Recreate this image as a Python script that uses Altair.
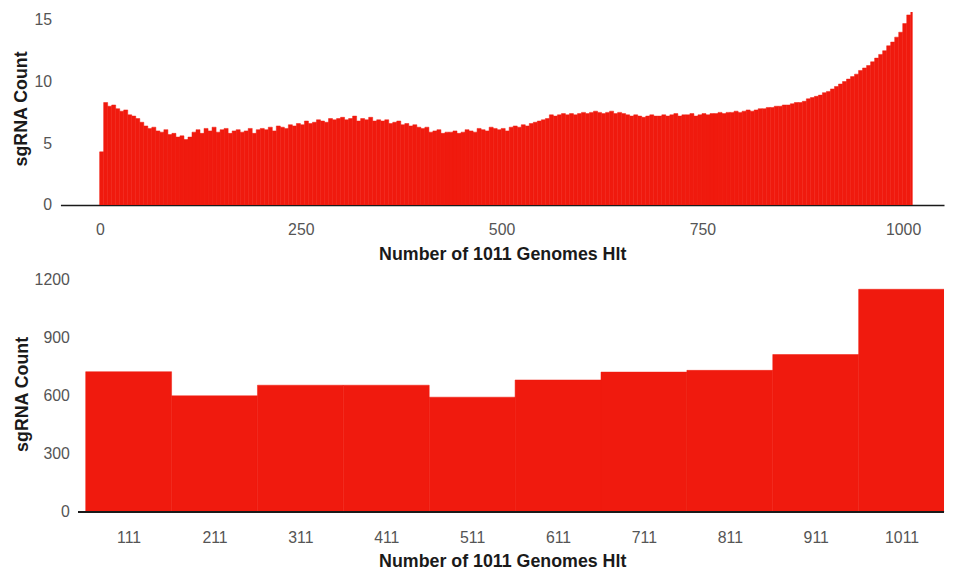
import altair as alt
import pandas as pd

RED = "#f01a0e"
FONT = "Liberation Sans"
X_TITLE = "Number of 1011 Genomes Hlt"
Y_TITLE = "sgRNA Count"

# ---- top panel: sgRNA count per number of genomes hit (5-genome bins) ----
top_counts = [
    4.3, 8.3, 8.0, 8.1, 7.8, 7.6, 7.7, 7.3, 7.2, 7.0,
    6.7, 6.4, 6.2, 6.3, 6.0, 5.9, 6.1, 5.7, 5.8, 5.5,
    5.6, 5.3, 5.5, 5.9, 6.1, 5.8, 6.2, 6.0, 6.3, 5.9,
    6.1, 6.2, 5.8, 6.0, 6.1, 5.9, 6.0, 6.2, 5.8, 6.1,
    6.2, 6.1, 6.3, 6.0, 6.4, 6.3, 6.2, 6.5, 6.4, 6.6,
    6.5, 6.8, 6.6, 6.7, 6.9, 6.8, 6.7, 7.0, 6.9, 7.0,
    7.1, 6.9, 7.0, 7.2, 6.8, 7.0, 6.9, 7.1, 6.8, 6.9,
    6.8, 6.9, 6.6, 6.7, 6.8, 6.5, 6.6, 6.4, 6.5, 6.3,
    6.2, 6.3, 5.9, 6.0, 6.1, 5.8, 5.9, 5.9, 6.0, 5.8,
    5.9, 6.1, 6.0, 5.9, 6.2, 6.1, 6.0, 6.3, 6.2, 6.1,
    6.2, 6.0, 6.3, 6.4, 6.3, 6.5, 6.4, 6.6, 6.7, 6.8,
    6.9, 7.0, 7.3, 7.2, 7.3, 7.4, 7.3, 7.4, 7.3, 7.4,
    7.5, 7.4, 7.5, 7.6, 7.5, 7.4, 7.5, 7.6, 7.4, 7.5,
    7.4, 7.3, 7.2, 7.3, 7.2, 7.1, 7.2, 7.3, 7.2, 7.2,
    7.3, 7.2, 7.3, 7.4, 7.2, 7.3, 7.3, 7.4, 7.2, 7.3,
    7.4, 7.3, 7.4, 7.4, 7.5, 7.4, 7.5, 7.5, 7.6, 7.5,
    7.6, 7.7, 7.6, 7.7, 7.8, 7.8, 7.9, 7.9, 8.0, 8.0,
    8.1, 8.1, 8.2, 8.3, 8.3, 8.4, 8.6, 8.7, 8.8, 8.9,
    9.1, 9.2, 9.4, 9.6, 9.8, 10.0, 10.2, 10.4, 10.6, 10.9,
    11.1, 11.3, 11.6, 11.9, 12.2, 12.5, 12.9, 13.2, 13.6, 14.0,
    14.7, 15.4, 16.0,
]
TOP_BIN = 5
TOP_MIN, TOP_MAX = -0.5, 1011.5
top_ticks = [0, 250, 500, 750, 1000]
top_y_ticks = [0, 5, 10, 15]

# ---- bottom panel: sgRNA count per 100-genome bin ----
bottom_hits = [111, 211, 311, 411, 511, 611, 711, 811, 911, 1011]
bottom_counts = [725, 600, 655, 655, 593, 682, 723, 732, 814, 1152]
BOTTOM_BIN = 100
bottom_y_ticks = [0, 300, 600, 900, 1200]
BOTTOM_X_RANGE = [31.6, 1060.4]      # scale domain of the bottom panel
BOTTOM_AXIS_START = 52.4             # where the bottom axis line begins

top_start = [TOP_MIN + TOP_BIN * i for i in range(len(top_counts))]
top_df = pd.DataFrame({
    "start": top_start,
    "end": [min(s + TOP_BIN, TOP_MAX) for s in top_start],
    "count": top_counts,
})
bot_df = pd.DataFrame({
    "start": [h - BOTTOM_BIN / 2 for h in bottom_hits],
    "end": [h + BOTTOM_BIN / 2 for h in bottom_hits],
    "count": bottom_counts,
})

W = 893

top = alt.Chart(top_df).mark_rect(
    color=RED, stroke=RED, strokeWidth=0.5, clip=True
).encode(
    x=alt.X("start:Q",
            scale=alt.Scale(domain=[-49.3, 1050.9], nice=False, zero=False),
            axis=alt.Axis(values=top_ticks, format="d", title=X_TITLE,
                          ticks=False, grid=False, domain=True,
                          domainColor="#1a1a1a", domainWidth=1.5,
                          labelFlush=False, labelPadding=17, titlePadding=8)),
    x2="end:Q",
    y=alt.Y("count:Q",
            scale=alt.Scale(domain=[0, 15.64], nice=False),
            axis=alt.Axis(values=top_y_ticks, format="d", title=Y_TITLE,
                          ticks=False, grid=False, domain=False,
                          labelFlush=False, labelPadding=9,
                          titlePadding=3)),
    y2=alt.datum(0),
).properties(width=W, height=195)

x_bot = alt.X("start:Q",
              scale=alt.Scale(domain=BOTTOM_X_RANGE, nice=False, zero=False),
              axis=alt.Axis(values=bottom_hits, format="d", title=X_TITLE,
                            ticks=False, grid=False, domain=False,
                            labelFlush=False, labelPadding=18,
                            titlePadding=7))

bottom_bars = alt.Chart(bot_df).mark_rect(
    color=RED, stroke=RED, strokeWidth=0.5, clip=True
).encode(
    x=x_bot,
    x2="end:Q",
    y=alt.Y("count:Q",
            scale=alt.Scale(domain=[0, 1220], nice=False),
            axis=alt.Axis(values=bottom_y_ticks, format="d", title=Y_TITLE,
                          ticks=False, grid=False, domain=False,
                          labelFlush=False, labelPadding=9,
                          offset=-18, titlePadding=3)),
    y2=alt.datum(0),
)

bottom_axis_line = alt.Chart(bot_df).mark_rule(
    color="#1a1a1a", strokeWidth=1.5
).encode(
    x=alt.datum(BOTTOM_AXIS_START),
    x2=alt.datum(BOTTOM_X_RANGE[1]),
    y=alt.datum(0),
)

bottom = alt.layer(bottom_bars, bottom_axis_line).properties(width=W, height=238)

chart = alt.vconcat(top, bottom, spacing=8).properties(
    padding={"left": 5, "top": 0, "right": 0, "bottom": 0}
).configure_view(stroke=None).configure_axis(
    labelFont=FONT, labelFontSize=16, labelColor="#555555",
    titleFont=FONT, titleFontSize=18, titleFontWeight="bold",
    titleColor="#1a1a1a",
)

chart.save("out.html", embed_options={"renderer": "svg", "actions": False})
